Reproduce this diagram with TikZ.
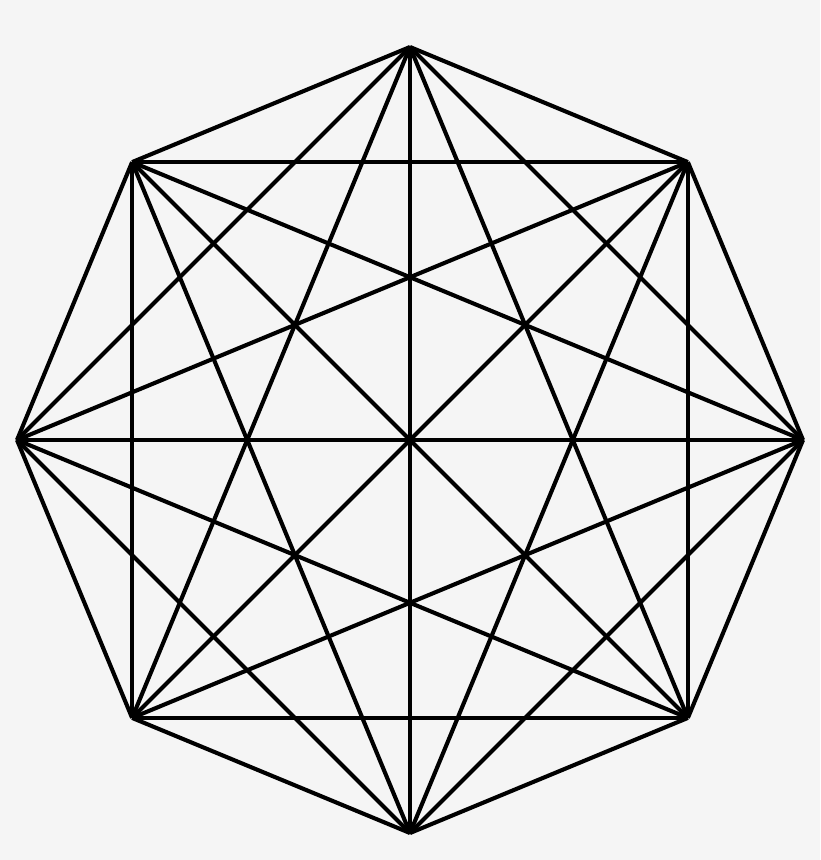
\documentclass[tikz,border=0pt]{standalone}
\begin{document}
\begin{tikzpicture}[x=1pt,y=-1pt,edge/.style={line width=4.1pt,black,line cap=butt}]
\fill[fill={rgb,255:red,245;green,245;blue,245}] (0,0) rectangle (820,860);
\useasboundingbox (0,0) rectangle (820,860);
\foreach \i in {0,...,7}{
  \coordinate (v\i) at ({410+393*sin(45*\i)},{440-393*cos(45*\i)});
}
\foreach \i in {0,...,6}{
  \pgfmathtruncatemacro{\s}{\i+1}
  \foreach \j in {\s,...,7}{
    \draw[edge] (v\i) -- (v\j);
  }
}
\end{tikzpicture}
\end{document}
